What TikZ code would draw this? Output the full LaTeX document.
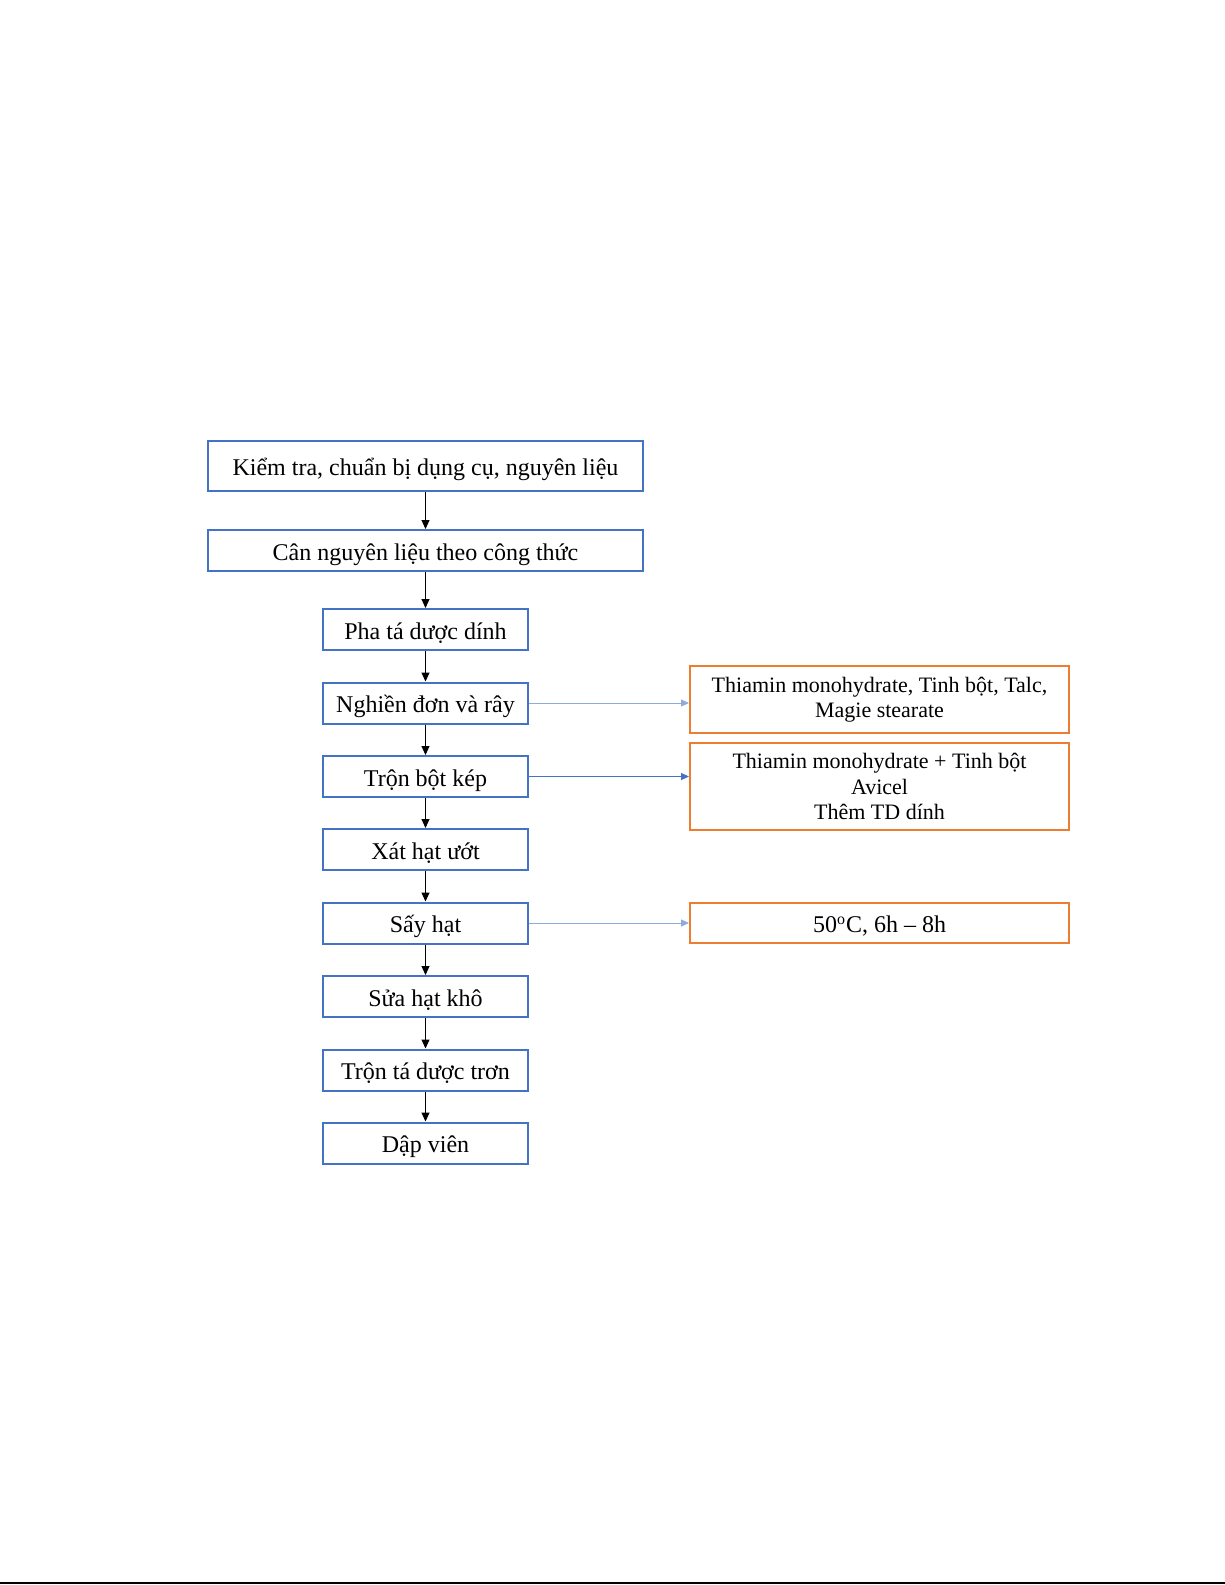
\documentclass[tikz,border=0pt]{standalone}
\usepackage{fontspec}
\setmainfont{Liberation Serif}
\usepackage{tikz}
\usetikzlibrary{arrows.meta}
\definecolor{boxblue}{HTML}{4472C4}
\definecolor{lightblue}{HTML}{8FAADC}
\definecolor{boxorange}{HTML}{ED7D31}
\tikzset{
  procbox/.style={draw=boxblue, line width=1pt, inner sep=0pt, minimum height=20.5pt, minimum width=102.5pt, text height=12pt, text depth=2.5pt, font=\fontsize{12}{14}\selectfont},
  notebox/.style={draw=boxorange, line width=1pt, inner sep=0pt, minimum width=189.5pt, align=center, font=\fontsize{11}{12.7}\selectfont},
  flow/.style={-{Triangle[length=4.5pt,width=4pt]}, line width=0.5pt, black},
  side/.style={-{Triangle[length=4pt,width=3.5pt]}, line width=0.5pt, color=lightblue}
}

\begin{document}
\begin{tikzpicture}[x=0.5pt,y=-0.5pt]
\useasboundingbox (0,0) rectangle (1225,1585);
\coordinate (p1) at (425.5,466);
\coordinate (p2) at (425.5,550.5);
\coordinate (p3) at (425.5,629.5);
\coordinate (p4) at (425.5,703);
\coordinate (p5) at (425.5,776.5);
\coordinate (p6) at (425.5,849.5);
\coordinate (p7) at (425.5,923);
\coordinate (p8) at (425.5,996.5);
\coordinate (p9) at (425.5,1070);
\coordinate (p10) at (425.5,1143);
\coordinate (na) at (879.5,699.5);
\coordinate (nb) at (879.5,786.7);
\coordinate (nc) at (879.5,923.3);
\begin{scope}
% draws steps
\node[procbox, minimum width=217.5pt, minimum height=25pt] (kiem) at (p1) {Kiểm tra, chuẩn bị dụng cụ, nguyên liệu};
\node[procbox, minimum width=217.5pt] (can) at (p2) {Cân nguyên liệu theo công thức};
\node[procbox] (pha) at (p3) {Pha tá dược dính};
\node[procbox] (nghien) at (p4) {Nghiền đơn và rây};
\node[procbox] (tronkep) at (p5) {Trộn bột kép};
\node[procbox] (xat) at (p6) {Xát hạt ướt};
\node[procbox] (say) at (p7) {Sấy hạt};
\node[procbox] (sua) at (p8) {Sửa hạt khô};
\node[procbox] (trontron) at (p9) {Trộn tá dược trơn};
\node[procbox] (dap) at (p10) {Dập viên};
% draws notes
\node[notebox, minimum height=33.8pt] (notea) at (na) {Thiamin monohydrate, Tinh bột, Talc,\\Magie stearate};
\node[notebox, minimum height=43.3pt] (noteb) at (nb) {Thiamin monohydrate + Tinh bột\\Avicel\\Thêm TD dính};
\node[notebox, minimum height=20pt, text height=12pt, text depth=2.5pt, font=\fontsize{12}{14}\selectfont] (notec) at (nc) {50\textsuperscript{o}C, 6h – 8h};
% draws flow
\draw[flow] (kiem) to (can);
\draw[flow] (can) to (pha);
\draw[flow] (pha) to (nghien);
\draw[flow] (nghien) to (tronkep);
\draw[flow] (tronkep) to (xat);
\draw[flow] (xat) to (say);
\draw[flow] (say) to (sua);
\draw[flow] (sua) to (trontron);
\draw[flow] (trontron) to (dap);
% draws side arrows
\draw[side] (nghien.east) to (nghien.east -| notea.west);
\draw[side, color=boxblue] (tronkep.east) to (tronkep.east -| noteb.west);
\draw[side] (say.east) to (say.east -| notec.west);
\end{scope}
% page edge
\coordinate (el) at (0,1583);
\coordinate (er) at (1225,1583);
\draw[line width=0.8pt] (el) -- (er);
\end{tikzpicture}
\end{document}
